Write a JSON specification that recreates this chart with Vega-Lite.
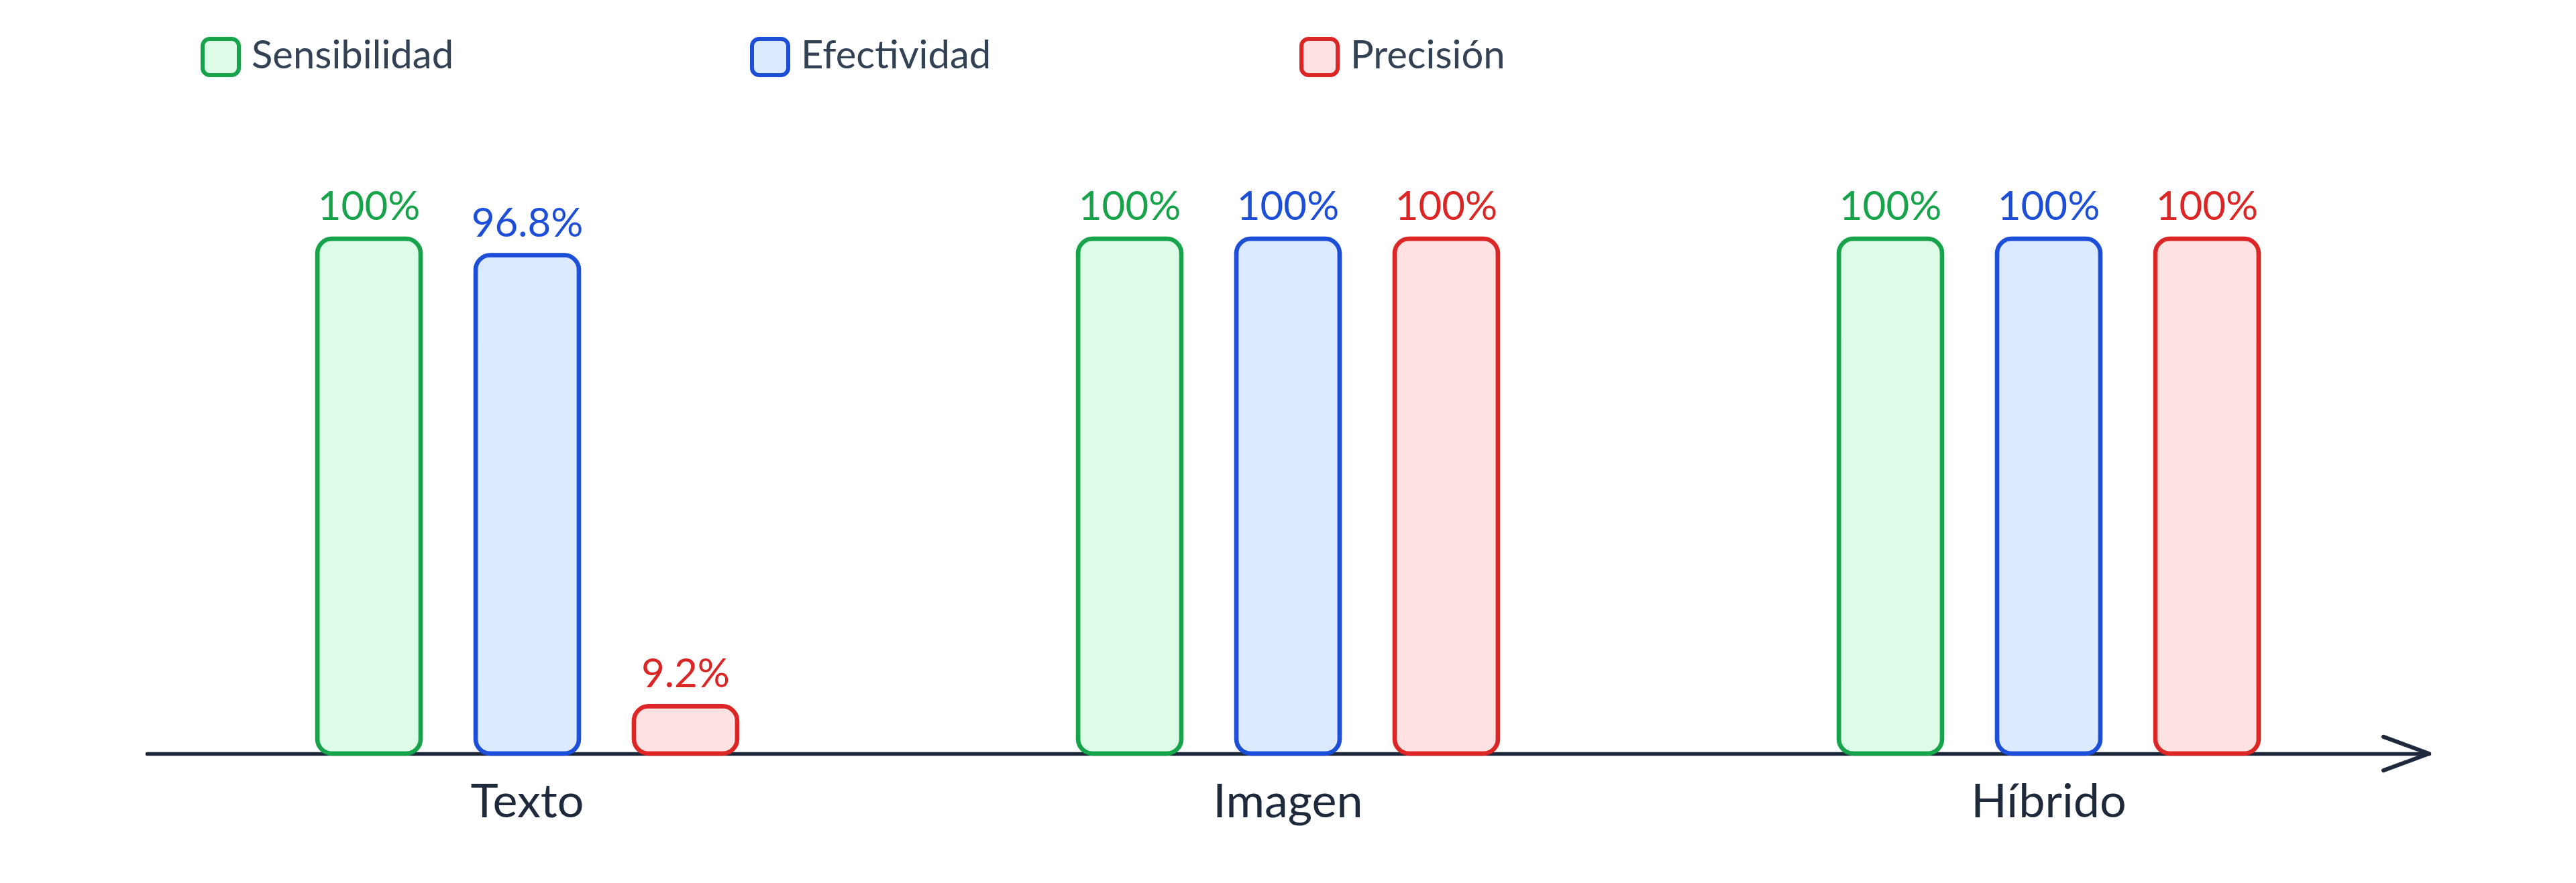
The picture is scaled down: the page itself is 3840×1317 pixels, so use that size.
{
  "$schema": "https://vega.github.io/schema/vega-lite/v6.json",
  "width": 3840,
  "height": 1124,
  "autosize": {"type": "none"},
  "padding": {"left": 0, "top": 0, "right": 0, "bottom": 193},
  "background": "#ffffff",
  "config": {"view": {"stroke": null}, "font": "Lato"},
  "datasets": {
    "resultados": [
      {"modalidad": "Texto", "metrica": "Sensibilidad", "valor": 1.0},
      {"modalidad": "Texto", "metrica": "Efectividad", "valor": 0.968},
      {"modalidad": "Texto", "metrica": "Precisión", "valor": 0.092},
      {"modalidad": "Imagen", "metrica": "Sensibilidad", "valor": 1.0},
      {"modalidad": "Imagen", "metrica": "Efectividad", "valor": 1.0},
      {"modalidad": "Imagen", "metrica": "Precisión", "valor": 1.0},
      {"modalidad": "Híbrido", "metrica": "Sensibilidad", "valor": 1.0},
      {"modalidad": "Híbrido", "metrica": "Efectividad", "valor": 1.0},
      {"modalidad": "Híbrido", "metrica": "Precisión", "valor": 1.0}
    ],
    "eje": [{"modalidad": "Híbrido", "valor": 0}]
  },
  "layer": [
    {
      "data": {"name": "resultados"},
      "mark": {"type": "bar", "cornerRadius": 22, "strokeWidth": 6.5},
      "encoding": {
        "x": {
          "field": "modalidad",
          "type": "nominal",
          "sort": ["Texto", "Imagen", "Híbrido"],
          "scale": {"range": [219, 3621], "paddingInner": 0, "paddingOuter": 0},
          "axis": {
            "title": null,
            "labelAngle": 0,
            "labelLimit": 0,
            "ticks": false,
            "grid": false,
            "labelFont": "Lato",
            "labelFontSize": 70,
            "labelColor": "#1e293b",
            "labelPadding": 39,
            "domainColor": "#1e293b",
            "domainWidth": 5.5,
            "domainCap": "round"
          }
        },
        "xOffset": {
          "field": "metrica",
          "type": "nominal",
          "sort": ["Sensibilidad", "Efectividad", "Precisión"],
          "scale": {"range": [254, 880], "paddingInner": 0.347, "paddingOuter": 0}
        },
        "y": {
          "field": "valor",
          "type": "quantitative",
          "scale": {"domain": [0, 1.4635], "nice": false},
          "axis": null
        },
        "fill": {
          "field": "metrica",
          "type": "nominal",
          "scale": {
            "domain": ["Sensibilidad", "Efectividad", "Precisión"],
            "range": ["#dcfce7", "#dbeafe", "#fee2e2"]
          },
          "legend": {
            "title": null,
            "orient": "none",
            "legendX": 299,
            "legendY": 55,
            "direction": "horizontal",
            "symbolType": "M-1,-0.6A0.4,0.4 0 0 1 -0.6,-1L0.6,-1A0.4,0.4 0 0 1 1,-0.6L1,0.6A0.4,0.4 0 0 1 0.6,1L-0.6,1A0.4,0.4 0 0 1 -1,0.6Z",
            "symbolSize": 2916,
            "symbolStrokeWidth": 6,
            "labelFont": "Lato",
            "labelFontSize": 58,
            "labelLimit": 0,
            "labelColor": "#334155",
            "labelOffset": 16,
            "columnPadding": 432,
            "gridAlign": "all"
          }
        },
        "stroke": {
          "field": "metrica",
          "type": "nominal",
          "scale": {
            "domain": ["Sensibilidad", "Efectividad", "Precisión"],
            "range": ["#16a34a", "#1d4ed8", "#dc2626"]
          },
          "legend": {
            "title": null,
            "orient": "none",
            "legendX": 299,
            "legendY": 55,
            "direction": "horizontal",
            "symbolType": "M-1,-0.6A0.4,0.4 0 0 1 -0.6,-1L0.6,-1A0.4,0.4 0 0 1 1,-0.6L1,0.6A0.4,0.4 0 0 1 0.6,1L-0.6,1A0.4,0.4 0 0 1 -1,0.6Z",
            "symbolSize": 2916,
            "symbolStrokeWidth": 6,
            "labelFont": "Lato",
            "labelFontSize": 58,
            "labelLimit": 0,
            "labelColor": "#334155",
            "labelOffset": 16,
            "columnPadding": 432,
            "gridAlign": "all"
          }
        }
      }
    },
    {
      "data": {"name": "resultados"},
      "mark": {"type": "text", "baseline": "alphabetic", "dy": -28, "fontSize": 60, "font": "Lato"},
      "encoding": {
        "x": {"field": "modalidad", "type": "nominal", "sort": ["Texto", "Imagen", "Híbrido"]},
        "xOffset": {"field": "metrica", "type": "nominal", "sort": ["Sensibilidad", "Efectividad", "Precisión"]},
        "y": {"field": "valor", "type": "quantitative", "axis": null},
        "text": {"field": "valor", "type": "quantitative", "format": ".1~%"},
        "color": {
          "field": "metrica",
          "type": "nominal",
          "scale": {
            "domain": ["Sensibilidad", "Efectividad", "Precisión"],
            "range": ["#16a34a", "#1d4ed8", "#dc2626"]
          },
          "legend": null
        }
      }
    },
    {
      "data": {"name": "eje"},
      "mark": {
        "type": "point",
        "shape": "M-1,-0.37L0,0L-1,0.37",
        "size": 18496,
        "filled": false,
        "strokeWidth": 6,
        "strokeCap": "round",
        "strokeJoin": "round",
        "color": "#1e293b",
        "opacity": 1
      },
      "encoding": {
        "x": {"field": "modalidad", "type": "nominal", "sort": ["Texto", "Imagen", "Híbrido"], "bandPosition": 1},
        "y": {"field": "valor", "type": "quantitative", "axis": null}
      }
    }
  ]
}
